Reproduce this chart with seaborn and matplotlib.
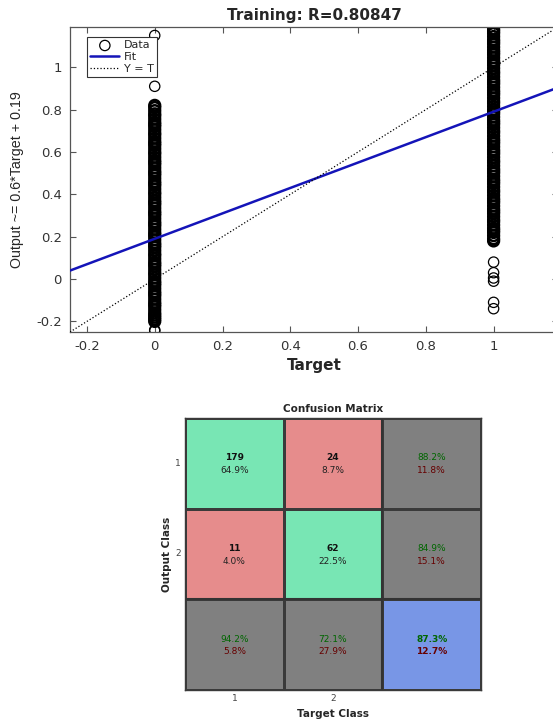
"""Regression plot and confusion matrix for the trained classifier (training set)."""

import matplotlib

matplotlib.use("Agg")

import matplotlib.pyplot as plt
import numpy as np
import seaborn as sns
from matplotlib.colors import ListedColormap

# network outputs, grouped by target value
# dense part of each column
OUT_TARGET_0 = [0.82, 0.81, 0.795, 0.78, 0.77, 0.755, 0.74, 0.73, 0.72, 0.705,
                0.69, 0.68, 0.665, 0.65, 0.64, 0.63, 0.615, 0.6, 0.59, 0.575, 0.56, 0.55,
                0.54, 0.525, 0.51, 0.5, 0.49, 0.475, 0.46, 0.45, 0.44, 0.425, 0.41, 0.4,
                0.385, 0.37, 0.36, 0.35, 0.335, 0.32, 0.31, 0.3, 0.285, 0.27, 0.26, 0.25,
                0.235, 0.22, 0.21, 0.2, 0.185, 0.17, 0.16, 0.15, 0.135, 0.12, 0.11, 0.095,
                0.08, 0.07, 0.06, 0.045, 0.03, 0.02, 0.005, -0.01, -0.02, -0.03, -0.045,
                -0.06, -0.07, -0.08, -0.095, -0.11, -0.12, -0.13, -0.145, -0.16, -0.17,
                -0.18, -0.19, -0.2]
OUT_TARGET_1 = [1.18, 1.17, 1.16, 1.145, 1.13, 1.12, 1.11, 1.095, 1.08, 1.07, 1.06, 1.045,
                1.03, 1.02, 1.01, 0.995, 0.98, 0.97, 0.955, 0.94, 0.93, 0.92, 0.905, 0.89,
                0.88, 0.87, 0.855, 0.84, 0.83, 0.815, 0.8, 0.79, 0.78, 0.765, 0.75, 0.74,
                0.73, 0.715, 0.7, 0.69, 0.675, 0.66, 0.65, 0.64, 0.625, 0.61, 0.6, 0.59,
                0.575, 0.56, 0.55, 0.535, 0.52, 0.51, 0.5, 0.485, 0.47, 0.46, 0.45, 0.435,
                0.42, 0.41, 0.395, 0.38, 0.37, 0.36, 0.345, 0.33, 0.32, 0.31, 0.295, 0.28,
                0.27, 0.255, 0.24, 0.23, 0.22, 0.205, 0.19, 0.18]
# isolated points
LONE_TARGET_0 = [1.15, 0.91, -0.24, -0.245]
LONE_TARGET_1 = [0.08, 0.03, 0.005, -0.01, -0.11, -0.14]

FIT_SLOPE = 0.6
FIT_OFFSET = 0.19
R_VALUE = "0.80847"
AX_LIMITS = [-0.25, 1.19]
TICK_VALUES = [-0.2, 0, 0.2, 0.4, 0.6, 0.8, 1]
TICK_LABELS = ["-0.2", "0", "0.2", "0.4", "0.6", "0.8", "1"]

CLASS_LABELS = ["1", "2"]
CONF_COUNTS = [[179, 24], [11, 62]]  # rows: output class, cols: target class

GREEN = (120 / 255, 230 / 255, 180 / 255)
RED = (230 / 255, 140 / 255, 140 / 255)
GREY = (0.5, 0.5, 0.5)
BLUE = (120 / 255, 150 / 255, 230 / 255)
DARK_GREEN = (0.0, 0.4, 0.0)
DARK_RED = (0.4, 0.0, 0.0)

sns.set_theme(style="ticks")
plt.rcParams["font.family"] = ["DejaVu Sans"]

fig = plt.figure(figsize=(5.53, 7.22), dpi=100)

# ---- regression plot ----
ax = fig.add_axes([70 / 553, 390 / 722, 488 / 553, 305 / 722])
lone_x = [0] * len(LONE_TARGET_0) + [1] * len(LONE_TARGET_1)
sns.scatterplot(x=lone_x, y=LONE_TARGET_0 + LONE_TARGET_1, ax=ax, marker="o", s=55,
                facecolor="none", edgecolor="black", linewidth=0.9, label="Data", zorder=2)
dense_x = [0] * len(OUT_TARGET_0) + [1] * len(OUT_TARGET_1)
sns.scatterplot(x=dense_x, y=OUT_TARGET_0 + OUT_TARGET_1, ax=ax, marker="o", s=60,
                facecolor="none", edgecolor="black", linewidth=1.8, zorder=2)
line_x = np.array(AX_LIMITS)
sns.lineplot(x=line_x, y=FIT_SLOPE * line_x + FIT_OFFSET, ax=ax, color="#1414b8",
             lw=1.8, label="Fit", zorder=3)
sns.lineplot(x=line_x, y=line_x, ax=ax, color="black", lw=0.9, ls=":",
             label="Y = T", zorder=3)

ax.set_xlim(AX_LIMITS)
ax.set_ylim(AX_LIMITS)
ax.set_xticks(TICK_VALUES, TICK_LABELS)
ax.set_yticks(TICK_VALUES, TICK_LABELS)
ax.tick_params(direction="in", top=True, right=True, length=4, width=0.8,
               color="#555555", labelcolor="#333333", labelsize=9.5, pad=6)
for spine in ax.spines.values():
    spine.set_color("#555555")
    spine.set_linewidth(0.9)
ax.set_title(f"Training: R={R_VALUE}", fontsize=11, fontweight="bold", pad=5)
ax.set_xlabel("Target", fontsize=11, fontweight="bold", labelpad=3)
ax.set_ylabel("Output ~= 0.6*Target + 0.19", fontsize=10.3,
              family=["Liberation Sans", "DejaVu Sans"])
ax.yaxis.set_label_coords(-0.094, 0.5)
leg = ax.legend(loc="upper left", bbox_to_anchor=(0.035, 0.967), borderaxespad=0,
                fontsize=8, frameon=True, fancybox=False, edgecolor="#333333",
                framealpha=1, handlelength=2.6, labelspacing=0.15, borderpad=0.3,
                handletextpad=0.4)
leg.get_frame().set_linewidth(0.8)

# ---- confusion matrix ----
cx = fig.add_axes([185 / 553, 32 / 722, 296 / 553, 272 / 722])
counts = np.array(CONF_COUNTS)
total = counts.sum()
row_tot = counts.sum(axis=1)
col_tot = counts.sum(axis=0)
codes = np.array([[0, 1, 2], [1, 0, 2], [2, 2, 3]])
sns.heatmap(codes, cmap=ListedColormap([GREEN, RED, GREY, BLUE]), vmin=-0.5, vmax=3.5,
            cbar=False, linewidths=0.9, linecolor="#3a3a3a", ax=cx)
cx.axhline(2, color="#333333", lw=1.5)
cx.axvline(2, color="#333333", lw=1.5)
for spine in cx.spines.values():
    spine.set_visible(True)
    spine.set_color("#3a3a3a")
    spine.set_linewidth(1.0)

fs = 6.5
for i in range(2):
    for j in range(2):
        cx.text(j + 0.5, i + 0.44, f"{counts[i, j]}", ha="center", va="center",
                fontsize=fs, fontweight="bold", color="#111111")
        cx.text(j + 0.5, i + 0.58, f"{100 * counts[i, j] / total:.1f}%", ha="center",
                va="center", fontsize=fs, color="#222222")
for i in range(2):
    ok = 100 * counts[i, i] / row_tot[i]
    cx.text(2.5, i + 0.44, f"{ok:.1f}%", ha="center", va="center", fontsize=fs, color=DARK_GREEN)
    cx.text(2.5, i + 0.58, f"{100 - ok:.1f}%", ha="center", va="center", fontsize=fs, color=DARK_RED)
for j in range(2):
    ok = 100 * counts[j, j] / col_tot[j]
    cx.text(j + 0.5, 2.44, f"{ok:.1f}%", ha="center", va="center", fontsize=fs, color=DARK_GREEN)
    cx.text(j + 0.5, 2.58, f"{100 - ok:.1f}%", ha="center", va="center", fontsize=fs, color=DARK_RED)
acc = 100 * np.trace(counts) / total
cx.text(2.5, 2.44, f"{acc:.1f}%", ha="center", va="center", fontsize=fs,
        fontweight="bold", color=DARK_GREEN)
cx.text(2.5, 2.58, f"{100 - acc:.1f}%", ha="center", va="center", fontsize=fs,
        fontweight="bold", color=DARK_RED)

cx.set_xticks([0.5, 1.5], CLASS_LABELS, rotation=0)
cx.set_yticks([0.5, 1.5], CLASS_LABELS, rotation=0)
cx.tick_params(length=0, labelsize=6.5, labelcolor="#444444", pad=3)
cx.set_title("Confusion Matrix", fontsize=7.5, fontweight="bold", pad=4)
cx.set_xlabel("Target Class", fontsize=7.5, fontweight="bold")
cx.set_ylabel("Output Class", fontsize=7.5, fontweight="bold")
cx.xaxis.set_label_coords(0.5, -0.07)
cx.yaxis.set_label_coords(-0.044, 0.5)

fig.savefig("out.png", dpi=100)
